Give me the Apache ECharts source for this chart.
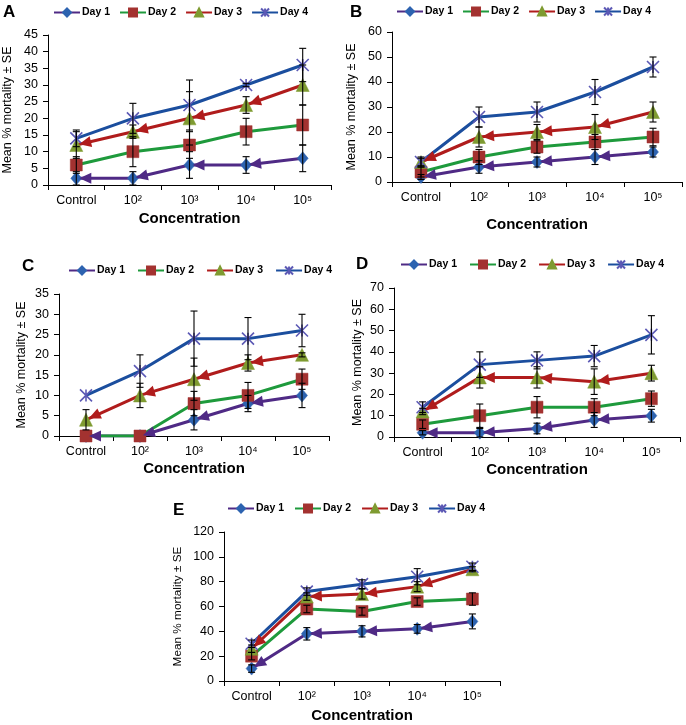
<!DOCTYPE html>
<html><head><meta charset="utf-8">
<script src="https://cdn.jsdelivr.net/npm/echarts@6/dist/echarts.min.js"></script>
<style>html,body{margin:0;padding:0;background:#fff}#c{width:686px;height:725px}</style>
</head><body><div id="c"></div>
<script>
// ---------- DATA ----------
const categories = ['Control', '10²', '10³', '10⁴', '10⁵'];
const dayNames = ['Day 1', 'Day 2', 'Day 3', 'Day 4'];
const panelLabels = ['A', 'B', 'C', 'D', 'E'];
const xTitle = 'Concentration';
const yTitle = 'Mean % mortality ± SE';
const yMaxes = [45, 60, 35, 70, 120];
const yIntervals = [5, 10, 5, 10, 20];

// Panel A
const aDay1 = [2, 2, 6, 6, 8];
const aDay2 = [6, 10, 12, 16, 18];
const aDay3 = [12, 16, 20, 24, 30];
const aDay4 = [14, 20, 24, 30, 36];
const aSe1 = [2, 2, 4, 2.5, 4];
const aSe2 = [2.5, 4.5, 4, 4, 6];
const aSe3 = [4, 2, 8, 2.5, 6];
const aSe4 = [2.5, 4.5, 7.5, 0.5, 5];
// Panel B
const bDay1 = [2, 6, 8, 10, 12];
const bDay2 = [4, 10, 14, 16, 18];
const bDay3 = [8, 18, 20, 22, 28];
const bDay4 = [8, 26, 28, 36, 46];
const bSe1 = [1, 2.5, 2, 3, 2];
const bSe2 = [2, 3, 2.5, 3, 3.5];
const bSe3 = [2, 4, 3, 5, 4];
const bSe4 = [1.5, 4, 4, 5, 4];
// Panel C
const cDay1 = [0, 0, 4, 8, 10];
const cDay2 = [0, 0, 8, 10, 14];
const cDay3 = [4, 10, 14, 18, 20];
const cDay4 = [10, 16, 24, 24, 26];
const cSe1 = [0, 0, 2.5, 2, 3];
const cSe2 = [0, 0, 3, 3.2, 2.5];
const cSe3 = [2.5, 3, 5.2, 2, 0.5];
const cSe4 = [0, 4, 6.8, 5.2, 4];
// Panel D
const dDay1 = [2, 2, 4, 8, 10];
const dDay2 = [6, 10, 14, 14, 18];
const dDay3 = [12, 28, 28, 26, 30];
const dDay4 = [14, 34, 36, 38, 48];
const dSe1 = [1, 2, 2.5, 3.5, 3];
const dSe2 = [2, 5.5, 5, 4, 3.6];
const dSe3 = [1.5, 5, 5, 6, 3.7];
const dSe4 = [2.5, 6, 4, 5, 9];
// Panel E
const eDay1 = [10, 38, 40, 42, 48];
const eDay2 = [20, 58, 56, 64, 66];
const eDay3 = [26, 68, 70, 76, 90];
const eDay4 = [30, 72, 78, 84, 92];
const eSe1 = [3, 5, 4.5, 3.5, 6];
const eSe2 = [3, 3, 3, 3, 5];
const eSe3 = [3, 3, 4, 4, 2];
const eSe4 = [3, 3, 3.5, 6.5, 3];

const panelValues = [
  [aDay1, aDay2, aDay3, aDay4],
  [bDay1, bDay2, bDay3, bDay4],
  [cDay1, cDay2, cDay3, cDay4],
  [dDay1, dDay2, dDay3, dDay4],
  [eDay1, eDay2, eDay3, eDay4]
];
const panelSe = [
  [aSe1, aSe2, aSe3, aSe4],
  [bSe1, bSe2, bSe3, bSe4],
  [cSe1, cSe2, cSe3, cSe4],
  [dSe1, dSe2, dSe3, dSe4],
  [eSe1, eSe2, eSe3, eSe4]
];

// ---------- LAYOUT & STYLE ----------
const FONT = '"Liberation Sans", Arial, sans-serif';
const grids = [
  {left: 48, top: 35, width: 283, height: 150},
  {left: 392, top: 32, width: 290, height: 150},
  {left: 59, top: 294, width: 270, height: 142},
  {left: 394, top: 288, width: 286, height: 149},
  {left: 224, top: 532, width: 276, height: 149}
];
const yNameGap = [34, 34, 31, 30, 40];
const xNameGap = [26, 35, 25, 25, 27];
const letterPos = [[3, 5], [350, 5], [22, 259], [356, 257], [173, 503]];
const legendPos = [[53, 7, 9], [396, 6, 9], [68, 265, 12], [400, 259, 12], [227, 503, 10]];

const lineColors = ['#4F2A85', '#1E9A3C', '#B01C1C', '#1B4E9E'];
const markerColors = ['#2D63B0', '#A33230', '#7F9B31', '#5C59B5'];
const symbols = ['diamond', 'rect', 'triangle', 'path://M0,0L10,10M10,0L0,10M5,0L5,10'];
const symbolSizes = [[11, 13], 12, 13, 12];
const arrowDays = [0, 2];

function renderErr(params, api) {
  const x = api.value(0);
  const lo = api.coord([x, api.value(1)]);
  const hi = api.coord([x, api.value(2)]);
  const w = 3.5;
  const st = {stroke: '#000', lineWidth: 1.1};
  return {type: 'group', children: [
    {type: 'line', shape: {x1: lo[0], y1: lo[1], x2: hi[0], y2: hi[1]}, style: st},
    {type: 'line', shape: {x1: lo[0] - w, y1: lo[1], x2: lo[0] + w, y2: lo[1]}, style: st},
    {type: 'line', shape: {x1: hi[0] - w, y1: hi[1], x2: hi[0] + w, y2: hi[1]}, style: st}
  ]};
}
function makeArrowRenderer(color) {
  return function (params, api) {
    const x = api.value(0);
    const p = api.coord([x, api.value(1)]);
    const q = api.coord([x + 1, api.value(2)]);
    let dx = q[0] - p[0], dy = q[1] - p[1];
    const len = Math.sqrt(dx * dx + dy * dy) || 1;
    dx /= len; dy /= len;
    const nx = -dy, ny = dx;
    const tip = [p[0] + dx * 3, p[1] + dy * 3];
    const base = [p[0] + dx * 15, p[1] + dy * 15];
    const hw = 5.5;
    return {type: 'polygon', shape: {points: [tip, [base[0] + nx * hw, base[1] + ny * hw], [base[0] - nx * hw, base[1] - ny * hw]]},
      style: {fill: color}};
  };
}

const option = {
  animation: false,
  backgroundColor: '#fff',
  title: panelLabels.map((t, p) => ({
    text: t, left: letterPos[p][0], top: letterPos[p][1] - 1, padding: 0,
    textStyle: {fontFamily: FONT, fontSize: 17, fontWeight: 'bold', color: '#000'}
  })),
  legend: panelLabels.map((t, p) => ({
    data: dayNames, left: legendPos[p][0], top: legendPos[p][1], itemGap: legendPos[p][2],
    padding: 0, itemWidth: 26, itemHeight: 10, selectedMode: false,
    textStyle: {fontFamily: FONT, fontSize: 10.5, fontWeight: 'bold', color: '#000', padding: [0, 0, 0, -3]}
  })),
  grid: grids.map(g => Object.assign({containLabel: false}, g)),
  xAxis: grids.map((g, p) => ({
    type: 'category', gridIndex: p, data: categories, boundaryGap: true,
    name: xTitle, nameLocation: 'middle', nameGap: xNameGap[p],
    nameTextStyle: {fontFamily: FONT, fontSize: 15, fontWeight: 'bold', color: '#000'},
    axisLine: {lineStyle: {color: '#000', width: 1}},
    axisTick: {show: true, length: 5, lineStyle: {color: '#000'}},
    axisLabel: {fontFamily: FONT, fontSize: 12.5, color: '#000', margin: 9, interval: 0},
    splitLine: {show: false}
  })),
  yAxis: grids.map((g, p) => ({
    type: 'value', gridIndex: p, min: 0, max: yMaxes[p], interval: yIntervals[p],
    name: yTitle, nameLocation: 'middle', nameGap: yNameGap[p],
    nameTextStyle: {fontFamily: FONT, fontSize: p === 4 ? 11.8 : 12.5, color: '#000'},
    axisLine: {show: true, lineStyle: {color: '#000', width: 1}},
    axisTick: {show: true, length: 5, lineStyle: {color: '#000'}},
    axisLabel: {fontFamily: FONT, fontSize: 12.5, color: '#000', margin: 10},
    splitLine: {show: false}
  })),
  series: []
};

panelValues.forEach((days, p) => {
  days.forEach((vals, d) => {
    option.series.push({
      type: 'line', name: dayNames[d], xAxisIndex: p, yAxisIndex: p, data: vals,
      symbol: symbols[d], symbolSize: symbolSizes[d], showAllSymbol: true,
      lineStyle: {color: lineColors[d], width: 3},
      itemStyle: {color: markerColors[d], borderColor: markerColors[d], borderWidth: d === 3 ? 1.6 : 0.5},
      z: 2
    });
    if (arrowDays.indexOf(d) >= 0) {
      const arrowData = [];
      for (let i = 0; i < vals.length - 1; i++) arrowData.push([i, vals[i], vals[i + 1]]);
      option.series.push({
        type: 'custom', name: dayNames[d] + ' arrows', xAxisIndex: p, yAxisIndex: p,
        data: arrowData, renderItem: makeArrowRenderer(lineColors[d]), z: 3, silent: true
      });
    }
    const se = panelSe[p][d];
    const errData = [];
    vals.forEach((v, i) => { if (se[i] > 0) errData.push([i, Math.max(0, v - se[i]), v + se[i]]); });
    option.series.push({
      type: 'custom', name: dayNames[d] + ' SE', xAxisIndex: p, yAxisIndex: p,
      data: errData, renderItem: renderErr, encode: {x: 0, y: [1, 2]}, z: 4, silent: true
    });
  });
});

const chart = echarts.init(document.getElementById('c'), null, {renderer: 'canvas'});
chart.setOption(option);
</script>
</body></html>
